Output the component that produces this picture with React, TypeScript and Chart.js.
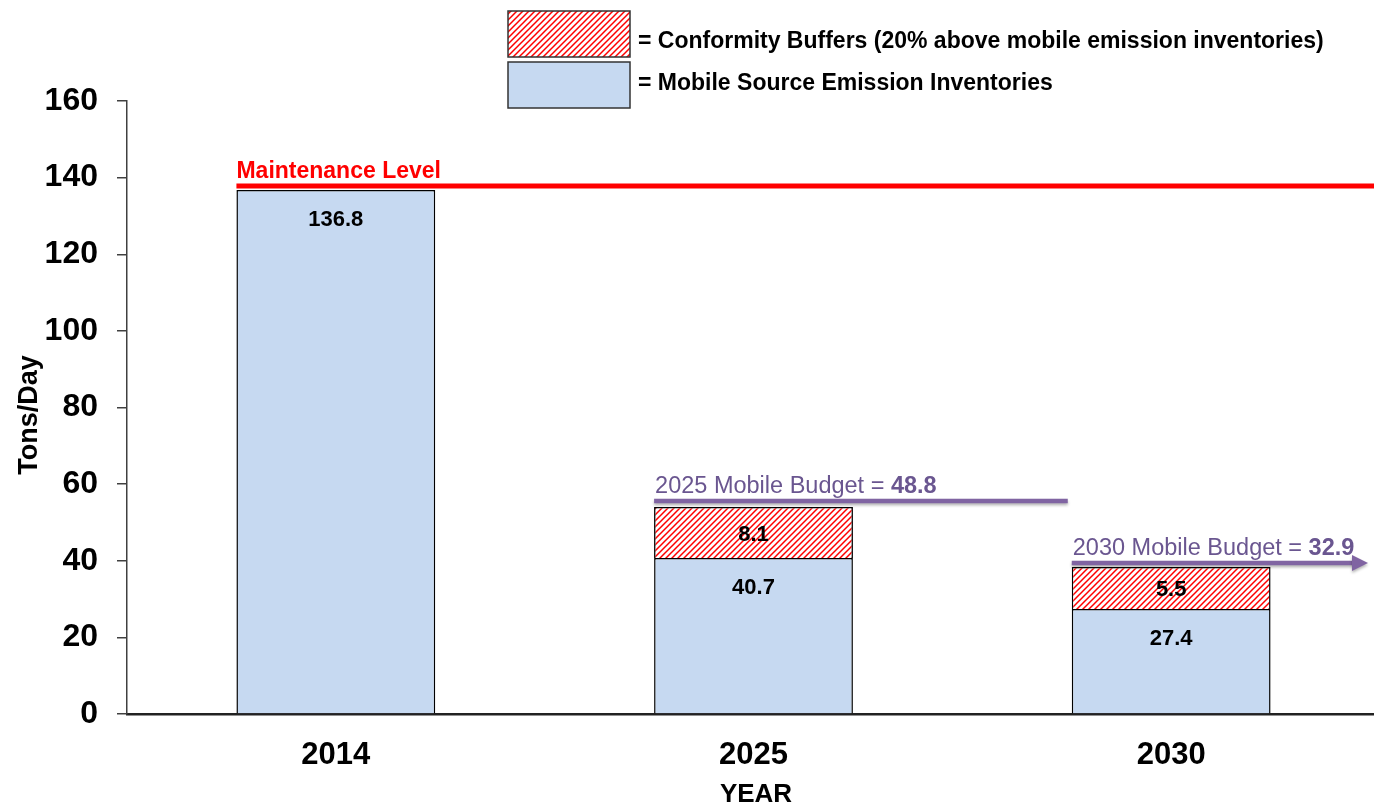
import React, { useEffect, useRef } from 'react';
import { Chart, registerables } from 'chart.js';

Chart.register(...registerables);

// ---- data ----
const years = ['2014', '2025', '2030'];
const inventoryValues = [136.8, 40.7, 27.4];
const bufferDrawnValues = [0, 13.3, 11.0];
const inventoryLabels = ['136.8', '40.7', '27.4'];
const bufferLabels = ['', '8.1', '5.5'];
const yTicks = [0, 20, 40, 60, 80, 100, 120, 140, 160];
const maintenanceLevel = 137.8;
const maintenanceText = 'Maintenance Level';
const budgetYears = ['2025', '2030'];
const budgetLineLevels = [55.6, 39.4];
const budgetValueLabels = ['48.8', '32.9'];
const legendLabels = [
  '= Conformity Buffers (20% above mobile emission inventories)',
  '= Mobile Source Emission Inventories',
];
const yTitle = 'Tons/Day';
const xTitle = 'YEAR';

const FONT = '"Liberation Sans", Arial, sans-serif';
const BLUE = '#C6D9F1';
const PURPLE_LINE = '#8064A2';
const PURPLE_TEXT = '#6A5690';

function makeHatch(): CanvasPattern | string {
  const c = document.createElement('canvas');
  c.width = 6;
  c.height = 6;
  const g = c.getContext('2d');
  if (!g) return '#f00';
  g.fillStyle = '#fff';
  g.fillRect(0, 0, 6, 6);
  g.strokeStyle = '#FF0000';
  g.lineWidth = 1.5;
  g.beginPath();
  g.moveTo(0, 6);
  g.lineTo(6, 0);
  g.moveTo(-1, 1);
  g.lineTo(1, -1);
  g.moveTo(5, 7);
  g.lineTo(7, 5);
  g.stroke();
  const p = g.createPattern(c, 'repeat');
  return p || '#f00';
}

export default function App() {
  const ref = useRef<HTMLCanvasElement | null>(null);

  useEffect(() => {
    const canvas = ref.current;
    if (!canvas) return;
    const hatch = makeHatch();

    const overlay = {
      id: 'overlay',
      afterDatasetsDraw(chart: any) {
        const ctx = chart.ctx as CanvasRenderingContext2D;
        const y = chart.scales.y;
        const area = chart.chartArea;
        const m0 = chart.getDatasetMeta(0);
        const m1 = chart.getDatasetMeta(1);
        ctx.save();
        // bar labels
        ctx.fillStyle = '#000';
        ctx.textAlign = 'center';
        ctx.textBaseline = 'middle';
        ctx.font = `bold 22px ${FONT}`;
        m0.data.forEach((bar: any, i: number) => {
          ctx.fillText(inventoryLabels[i], bar.x, bar.y + 30);
        });
        m1.data.forEach((bar: any, i: number) => {
          if (!bufferLabels[i]) return;
          ctx.fillText(bufferLabels[i], bar.x, (bar.y + bar.base) / 2 + 2);
        });

        // maintenance line
        const b0 = m0.data[0];
        const mx0 = b0.x - b0.width / 2;
        const my = y.getPixelForValue(maintenanceLevel);
        ctx.strokeStyle = '#FF0000';
        ctx.lineWidth = 5;
        ctx.beginPath();
        ctx.moveTo(mx0, my);
        ctx.lineTo(area.right, my);
        ctx.stroke();
        ctx.fillStyle = '#FF0000';
        ctx.font = `bold 23px ${FONT}`;
        ctx.textAlign = 'left';
        ctx.textBaseline = 'alphabetic';
        ctx.fillText(maintenanceText, mx0, my - 8);

        // budget lines
        budgetYears.forEach((yr, k) => {
          const idx = years.indexOf(yr);
          const bar = m0.data[idx];
          const x0 = bar.x - bar.width / 2;
          const isLast = idx === years.length - 1;
          const x1 = isLast ? area.right - 12 : m0.data[idx + 1].x - m0.data[idx + 1].width / 2 - 4;
          const ly = y.getPixelForValue(budgetLineLevels[k]);
          ctx.save();
          ctx.shadowColor = 'rgba(0,0,0,0.3)';
          ctx.shadowBlur = 3;
          ctx.shadowOffsetY = 2;
          ctx.strokeStyle = PURPLE_LINE;
          ctx.fillStyle = PURPLE_LINE;
          ctx.lineWidth = 4.5;
          ctx.beginPath();
          ctx.moveTo(x0, ly);
          ctx.lineTo(isLast ? x1 - 14 : x1, ly);
          ctx.stroke();
          if (isLast) {
            ctx.beginPath();
            ctx.moveTo(x1 - 16, ly - 8);
            ctx.lineTo(x1, ly);
            ctx.lineTo(x1 - 16, ly + 8);
            ctx.closePath();
            ctx.fill();
          }
          ctx.restore();
          const t1 = `${yr} Mobile Budget = `;
          ctx.fillStyle = PURPLE_TEXT;
          ctx.font = `23.5px ${FONT}`;
          ctx.textAlign = 'left';
          ctx.textBaseline = 'alphabetic';
          const tx = x0 + 1;
          const ty = ly - 8;
          ctx.fillText(t1, tx, ty);
          const w = ctx.measureText(t1).width;
          ctx.font = `bold 23.5px ${FONT}`;
          ctx.fillText(budgetValueLabels[k], tx + w, ty);
        });
        ctx.restore();
      },
      afterDraw(chart: any) {
        const ctx = chart.ctx as CanvasRenderingContext2D;
        ctx.save();
        // legend boxes
        const boxes = [
          { y: 11, ty: 42, fill: hatch },
          { y: 62, ty: 84, fill: BLUE },
        ];
        boxes.forEach((b, i) => {
          ctx.fillStyle = b.fill as any;
          ctx.fillRect(508, b.y, 122, 46);
          ctx.strokeStyle = '#333';
          ctx.lineWidth = 1.5;
          ctx.strokeRect(508, b.y, 122, 46);
          ctx.fillStyle = '#000';
          ctx.font = `bold 23px ${FONT}`;
          ctx.textAlign = 'left';
          ctx.textBaseline = 'middle';
          ctx.fillText(legendLabels[i], 638, b.ty);
        });
        // axis titles
        ctx.fillStyle = '#000';
        ctx.font = `bold 26px ${FONT}`;
        ctx.textAlign = 'center';
        ctx.textBaseline = 'middle';
        ctx.fillText(xTitle, 756, 795);
        ctx.translate(30, 415);
        ctx.rotate(-Math.PI / 2);
        ctx.font = `bold 27px ${FONT}`;
        ctx.fillText(yTitle, 0, 0);
        ctx.restore();
      },
    };

    const chart = new Chart(canvas, {
      type: 'bar',
      data: {
        labels: years,
        datasets: [
          {
            label: 'Mobile Source Emission Inventories',
            data: inventoryValues,
            backgroundColor: BLUE,
            borderColor: '#000',
            borderWidth: 1.5,
            barPercentage: 0.476,
            categoryPercentage: 1,
          },
          {
            label: 'Conformity Buffers',
            data: bufferDrawnValues,
            backgroundColor: hatch as any,
            borderColor: '#000',
            borderWidth: 1.5,
            barPercentage: 0.476,
            categoryPercentage: 1,
          },
        ],
      },
      options: {
        responsive: false,
        animation: false,
        devicePixelRatio: 1,
        layout: { padding: { top: 101, right: 0, left: 0, bottom: 0 } },
        plugins: { legend: { display: false }, tooltip: { enabled: false } },
        scales: {
          x: {
            stacked: true,
            grid: { display: false, drawTicks: false },
            border: { display: true, color: '#222', width: 2.5 },
            ticks: {
              color: '#000',
              font: { family: FONT, size: 31, weight: 'bold' },
              padding: 23,
            },
            afterFit: (axis: any) => {
              axis.height = 94;
            },
          },
          y: {
            stacked: true,
            min: 0,
            max: 160,
            grid: { drawOnChartArea: false, drawTicks: true, tickLength: 10, color: '#404040', lineWidth: 1.5 },
            border: { display: true, color: '#404040', width: 1.5 },
            ticks: {
              color: '#000',
              font: { family: FONT, size: 32, weight: 'bold' },
              padding: 19,
            },
            afterBuildTicks: (axis: any) => {
              axis.ticks = yTicks.map((v) => ({ value: v }));
            },
            afterFit: (axis: any) => {
              axis.width = 127;
            },
          },
        },
      },
      plugins: [overlay],
    });
    return () => chart.destroy();
  }, []);

  return (
    <div style={{ position: 'absolute', left: 0, top: 0, width: 1374, height: 808, overflow: 'hidden', background: '#fff' }}>
      <canvas ref={ref} width={1380} height={808} style={{ display: 'block' }} />
    </div>
  );
}
